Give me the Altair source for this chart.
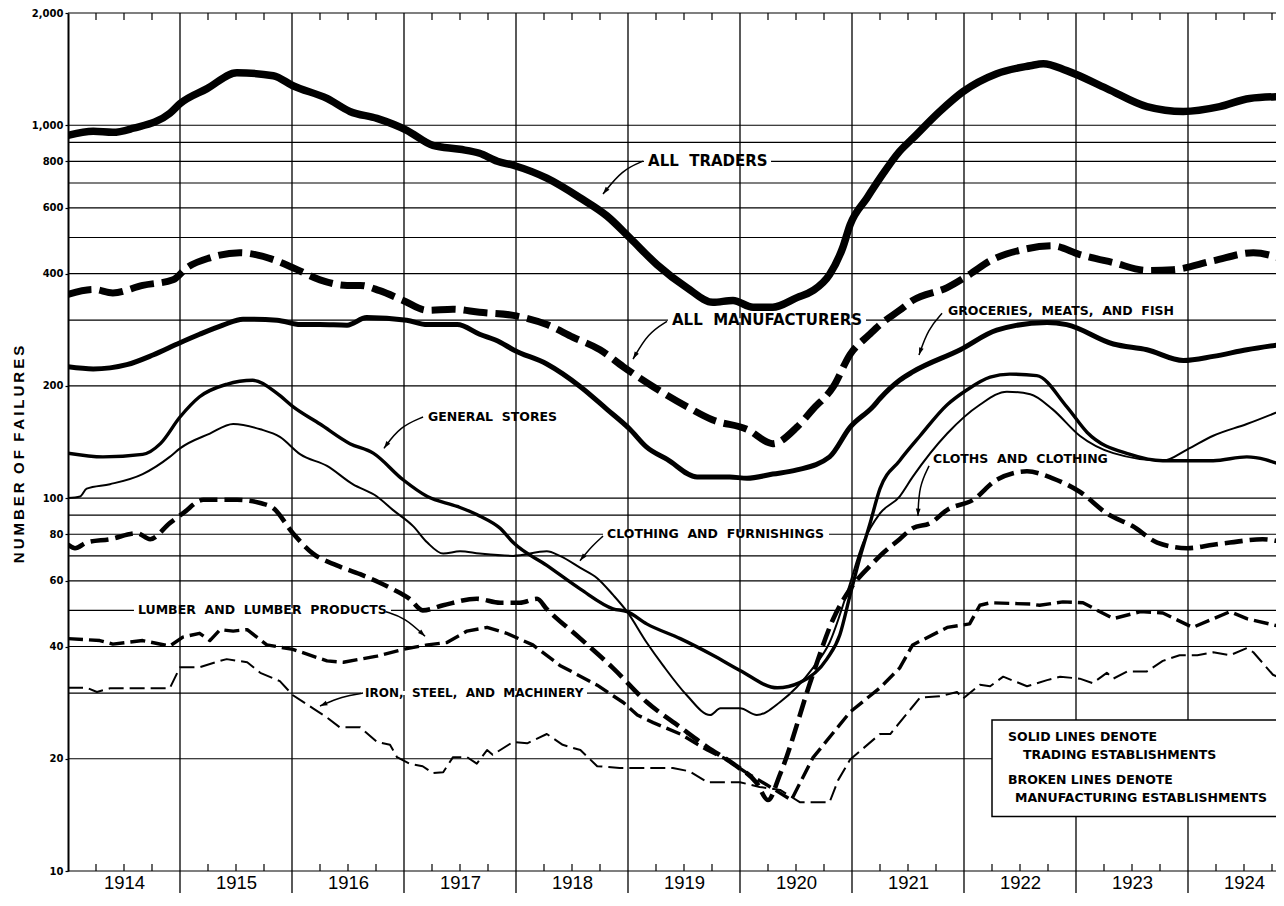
import altair as alt
import pandas as pd

# ------------------------------------------------------------------
# Data: sample points.
# *_M  = months elapsed since January 1914, values = number of failures
# ------------------------------------------------------------------
ALL_TRADERS_M = [0, 2.7, 4.8, 7, 10.9, 12, 14.9, 18.1, 22, 24.1, 27.75, 30.2, 33.1, 36.3, 39.1,
                 42, 44.1, 46, 47.7, 51.3, 54.9, 57.75, 60.2, 63.1, 66.3, 69.1, 71.25, 73.4, 75.5,
                 78.1, 79.8, 81.6, 83, 83.8, 85.6, 87, 89.1, 90.5, 93.4, 95.9, 99.5, 103.1, 104.5,
                 107, 111.3, 115.6, 119.5, 123.4, 126.6, 130.3]
ALL_TRADERS = [940, 963, 957, 982, 1076, 1143, 1254, 1383, 1358, 1276, 1180, 1089, 1043, 969, 883,
               862, 841, 801, 781, 721, 638, 571, 499, 423, 367, 335, 339, 325, 325,
               345, 360, 398, 469, 541, 638, 721, 851, 922, 1089, 1231, 1375, 1444, 1463,
               1401, 1254, 1122, 1089, 1122, 1180, 1195]

ALL_MFG_M = [0, 2.7, 4.8, 8, 11.25, 12.75, 15.2, 18.4, 22, 24.1, 27, 29.9, 31.3, 33.4, 35.9,
             38.5, 41.25, 44.1, 47.7, 51.3, 54.1, 57, 59.5, 62.7, 66.3, 69.1, 72.75, 75.5, 78.1,
             79.8, 82, 83.8, 85.9, 87, 89.1, 90.5, 94.2, 96.6, 98.8, 102.3, 105.5, 108.4, 112,
             115.6, 118.4, 122.7, 127, 130.3]
ALL_MFG = [352, 363, 355, 372, 385, 415, 441, 455, 436, 415, 385, 372, 372, 360, 339,
           319, 321, 315, 309, 292, 270, 250, 225, 199, 176, 162, 153, 140, 155,
           173, 199, 243, 275, 292, 319, 339, 367, 398, 433, 464, 475, 450, 428,
           408, 410, 433, 455, 436]

GROC_M = [0, 2.7, 6.3, 9.1, 11.7, 14.1, 16.6, 18.75, 22.4, 24.9, 27, 29.9, 32, 36.3, 38.5,
          41.7, 44.1, 46.3, 47.7, 51.3, 54.9, 57.75, 60.2, 62, 64.2, 67.4, 70.9, 72.75, 75.5,
          78.1, 81.6, 83.8, 86.25, 87, 89.1, 90.5, 95.6, 99.5, 104.9, 107, 112, 115.6, 119.5,
          122.7, 126.3, 130.3]
GROC = [225, 222, 228, 242, 259, 275, 291, 302, 300, 292, 292, 291, 305, 300, 292,
        292, 275, 262, 250, 229, 199, 173, 153, 137, 127, 114, 114, 113, 116,
        119, 129, 155, 176, 185, 207, 218, 250, 282, 296, 292, 259, 250, 234,
        240, 250, 259]

GEN_M = [0, 3.75, 8, 9.9, 12, 14.1, 17, 19.8, 22.4, 24.1, 27, 30.2, 32.7, 35.9, 38.5,
         41.7, 44.1, 46.3, 47.7, 51.3, 54.9, 58.4, 59.9, 62, 65.6, 69.1, 72, 76, 78.4,
         81.3, 82.7, 83.8, 84.9, 85.9, 87, 89.1, 91.3, 94.2, 96.3, 98.8, 100.9, 103.8, 107,
         109.2, 113.8, 117.3, 122.7, 126.3, 130.3]
GEN = [132, 129, 131, 140, 165, 187, 202, 207, 191, 176, 158, 140, 132, 112, 101,
       95, 89.6, 83, 76, 66, 57, 50.5, 49.6, 46, 42, 37.9, 34.5, 31, 32,
       37, 43, 55, 70, 85, 106, 126, 147, 178, 195, 211, 215, 213, 176,
       150, 131, 126, 126, 129, 122]

CF_M = [0, 1.3, 2, 4.5, 8, 10.9, 12, 15.2, 17.7, 20.6, 22.7, 24.9, 27.75, 30.5, 33.1,
        34.8, 37, 38.5, 40.2, 42, 44.1, 47.7, 51.3, 52.7, 54.9, 56.7, 58.4, 59.9, 62,
        63.75, 66.3, 68.8, 69.9, 72, 73.8, 76.3, 79.8, 81.6, 83.5, 85.2, 87, 89.1, 90.5,
        94.2, 97.7, 100.6, 103.1, 105.5, 108.4, 112, 117.3, 119.9, 122.7, 126.3, 130.3]
CF = [100, 101, 106, 109, 116, 129, 136, 149, 158, 153, 146, 131, 122, 109, 101,
      93, 84, 76, 71, 72, 71, 70, 72, 70, 65, 61, 55, 49.6, 41,
      35.6, 29.6, 26.2, 27.3, 27.3, 26.2, 28.4, 35, 41, 56, 76, 91, 101, 114,
      149, 178, 193, 190, 173, 147, 132, 126, 135, 147, 158, 173]

CC_M = [0, 0.75, 2, 4.5, 7.4, 8.8, 10.9, 12.3, 14.5, 18.1, 20.6, 22, 24.1, 26.25, 28.8,
        31.3, 33.4, 34.8, 36.6, 38, 40.2, 43.8, 46.3, 48.4, 50.25, 51.3, 54.9, 58.4, 62,
        65.6, 68.5, 71.25, 73.8, 75, 76.3, 79.8, 82, 83.8, 86.25, 87, 89.1, 90.5, 92.4,
        94.2, 97, 99.5, 102.75, 105.5, 108.4, 111.3, 114.1, 116.7, 119.9, 122.7, 124.5,
        128, 130.3]
CC = [75, 73.4, 76, 77.6, 80.5, 77.6, 85.7, 91, 99, 99, 97, 94, 80.5, 71, 66,
      62.5, 59.3, 57, 53.7, 50, 51.6, 53.7, 52.4, 52.4, 53.7, 50.4, 42, 35, 28.4,
      24.3, 21.5, 19.4, 17.2, 15.5, 18.2, 33.6, 47.5, 57, 67, 70, 77.6, 83, 85.7,
      93, 99, 112, 118, 113, 104, 91, 84, 76, 73.4, 75, 76,
      77.6, 76]

LUMBER_M = [0, 3.4, 4.8, 8, 10.9, 12.3, 14.1, 15.2, 16.3, 17.7, 19.2, 21.3, 24.1, 27.75, 29.5,
            33.1, 35.9, 38.5, 40.6, 42.75, 44.9, 47, 49.8, 52.7, 56.7, 59.5, 61, 62.7, 65.6,
            68.5, 70.6, 72.75, 74.9, 77.5, 79.8, 83.8, 87, 89.1, 90.5, 94.2, 96.6, 97.7, 98.8,
            103.1, 104.1, 106.6, 108.75, 112, 114.9, 117.3, 120.5, 124.5, 126.3, 130.3]
LUMBER = [42, 41.5, 40.6, 41.5, 40.1, 42.4, 43.4, 41.5, 44.4, 44, 44.4, 40.4, 39.3, 36.6, 36.3,
          37.7, 39.3, 40.4, 41, 44, 45, 43.4, 40.4, 35.6, 31.5, 28.3, 26.2, 25, 23.3,
          21.1, 19.9, 18.3, 17, 15.5, 20.1, 26.7, 31, 35, 40.4, 45, 46, 51.6, 52.4,
          52, 51.6, 52.7, 52.4, 47.5, 49.6, 49.2, 45, 49.6, 47.5, 45]

IRON_M = [0, 2, 3.1, 4.5, 10.9, 12, 14.1, 16.3, 17, 19.2, 20.6, 22.7, 24.1, 26.25, 27.75,
          29.1, 31.3, 33.1, 34.5, 35.25, 36.6, 38, 39.1, 40.2, 41.25, 42.75, 43.8, 44.9, 45.5,
          47.7, 49.2, 51.3, 53, 54.9, 56.7, 59.1, 62.7, 64.8, 66.6, 68.5, 72, 74.1, 76.3,
          78.4, 81.6, 82.5, 83.8, 87, 88.1, 91.3, 93.4, 95.25, 95.9, 97.7, 98.8, 100.2,
          102.75, 104.9, 106.3, 108.4, 109.8, 111.3, 112, 113.5, 115.6, 117.3, 119.1, 121,
          122.7, 124.5, 126.3, 127, 129.1, 130.3]
IRON = [31, 31, 30.2, 30.9, 30.9, 35.2, 35.2, 36.6, 37, 36.3, 34, 32.3, 29.6, 27.3, 25.8,
        24.3, 24.3, 22.2, 21.8, 20.2, 19.4, 19.1, 18.3, 18.4, 20.2, 20.2, 19.4, 21.1, 20.5,
        22.2, 22, 23.3, 21.8, 21.1, 19.1, 18.9, 18.9, 18.9, 18.5, 17.3, 17.3, 16.8, 16.5,
        15.3, 15.3, 17.5, 19.9, 23.3, 23.3, 29.2, 29.4, 30.2, 29, 31.6, 31.3, 33.2,
        31.3, 32.5, 33.2, 32.8, 31.9, 34, 32.8, 34.3, 34.3, 36.6, 37.9, 37.9,
        38.6, 37.9, 39.6, 38.6, 33.6, 32.5]

Y_LABELS = [10, 20, 40, 60, 80, 100, 200, 400, 600, 800, 1000, 2000]
GRID_VALUES = [10, 20, 30, 40, 50, 60, 70, 80, 90, 100, 200, 300, 400, 500, 600, 700, 800, 900,
               1000, 2000]
YEARS = list(range(1914, 1925))

# annotation labels: text, year position (left edge), value (centre line), font size
LABELS = [
    ("ALL TRADERS", 1919.179, 800, 15),
    ("ALL MANUFACTURERS", 1919.393, 300, 15),
    ("GROCERIES, MEATS, AND FISH", 1921.857, 317, 12.5),
    ("GENERAL STORES", 1917.214, 165, 12.5),
    ("CLOTHING AND FURNISHINGS", 1918.813, 80, 12.5),
    ("CLOTHS AND CLOTHING", 1921.723, 127, 12.5),
    ("LUMBER AND LUMBER PRODUCTS", 1914.625, 50, 12.5),
    ("IRON, STEEL, AND MACHINERY", 1916.652, 30, 12),
]

# gaps cut in the gridlines behind the labels that sit on them: (from, to, value)
KNOCKOUTS = [
    (1919.143, 1920.277, 800),
    (1919.357, 1921.125, 300),
    (1918.777, 1920.795, 80),
    (1914.589, 1916.884, 50),
    (1916.616, 1918.634, 30),
]

# leader arrows: points (year, value); arrowhead angle at last point
ARROWS = [
    ([(1919.134, 801), (1918.946, 758), (1918.777, 654)], 218),
    ([(1919.348, 298), (1919.179, 277), (1919.045, 236)], 210),
    ([(1921.804, 313), (1921.679, 284), (1921.598, 242)], 199),
    ([(1917.170, 165), (1916.964, 155.5), (1916.821, 136)], 216),
    ([(1918.777, 79.1), (1918.679, 74.4), (1918.571, 67.9)], 219),
    ([(1921.688, 122), (1921.598, 107.6), (1921.589, 89.5)], 182),
    ([(1916.839, 49.6), (1917.009, 47.8), (1917.188, 42.6)], 133),
    ([(1916.634, 30), (1916.446, 29.4), (1916.250, 27.7)], 246),
]

LEGEND_LINES = [
    ("SOLID LINES DENOTE", 1922.393, 22.9),
    ("TRADING ESTABLISHMENTS", 1922.527, 20.5),
    ("BROKEN LINES DENOTE", 1922.393, 17.5),
    ("MANUFACTURING ESTABLISHMENTS", 1922.455, 15.7),
]
LEGEND_BOX = (1922.25, 1926.0, 25.4, 14.0)

# ------------------------------------------------------------------
W, H = 1208, 858
START = 1914.0
END = START + W / 112.0
FONT = "DejaVu Sans"
NBSP = "\u00a0"

xs = alt.Scale(domain=[START, END], nice=False, zero=False)
ys = alt.Scale(type="log", domain=[10, 2000], nice=False)


def series_df(months, values):
    return pd.DataFrame({"t": [START + m / 12.0 for m in months], "v": values})


def wide(text):
    return (NBSP + " ").join(text.split(" "))


title_text = (NBSP * 2).join("\u2009".join(w) for w in ["NUMBER", "OF", "FAILURES"])

Y_AXIS = alt.Axis(values=Y_LABELS, format=",", labelFont=FONT, labelFontWeight="bold",
                  labelFontSize=10, labelColor="black", labelPadding=2, tickSize=3,
                  tickColor="black", tickWidth=1.2, domainColor="black", domainWidth=2,
                  grid=False, labelOverlap=False, title=title_text,
                  titleFont="Liberation Sans", titleFontSize=15, titleFontWeight="bold",
                  titleColor="black", titleAngle=270, titleX=-50, titleY=441,
                  titleAlign="center", titleBaseline="middle")

X_AXIS = alt.Axis(values=[y + 0.5 for y in YEARS], labelExpr="floor(datum.value)",
                  ticks=False, tickSize=0, domain=False, grid=False,
                  labelFont="Liberation Sans", labelFontSize=18.5, labelColor="black",
                  labelPadding=17, labelBaseline="alphabetic", labelFlush=False,
                  labelOverlap=False, title=None)


def X(field="t:Q"):
    return alt.X(field, scale=xs, axis=X_AXIS)


def Y(field="v:Q"):
    return alt.Y(field, scale=ys, axis=Y_AXIS)


layers = []

# horizontal grid
layers.append(
    alt.Chart(pd.DataFrame({"v": GRID_VALUES}))
    .mark_rule(color="black", strokeWidth=1.2)
    .encode(y=Y())
)

# year dividers
layers.append(
    alt.Chart(pd.DataFrame({"t": [float(y) for y in YEARS[1:]]}))
    .mark_rule(color="black", strokeWidth=1.3)
    .encode(x=X(), y=alt.value(0), y2=alt.value(H + 22))
)

# quarterly ticks at bottom and top
quarters = [y + q / 4 for y in YEARS for q in (1, 2, 3) if y + q / 4 < END]
qdf = pd.DataFrame({"t": quarters})
layers.append(
    alt.Chart(qdf).mark_rule(color="black", strokeWidth=1.2)
    .encode(x=X(), y=alt.value(H - 7), y2=alt.value(H))
)
layers.append(
    alt.Chart(qdf).mark_rule(color="black", strokeWidth=1.2)
    .encode(x=X(), y=alt.value(0), y2=alt.value(7))
)

# gridline knock-outs behind labels
layers.append(
    alt.Chart(pd.DataFrame({"t": [k[0] for k in KNOCKOUTS], "t2": [k[1] for k in KNOCKOUTS],
                            "v": [k[2] for k in KNOCKOUTS]}))
    .mark_rule(color="white", strokeWidth=4)
    .encode(x=X(), x2="t2:Q", y=Y())
)

# data series
SERIES = [
    (ALL_TRADERS_M, ALL_TRADERS, 7.5, None, "monotone"),
    (ALL_MFG_M, ALL_MFG, 7, [24, 8], "monotone"),
    (GROC_M, GROC, 5, None, "monotone"),
    (GEN_M, GEN, 3.4, None, "monotone"),
    (CF_M, CF, 2, None, "monotone"),
    (CC_M, CC, 4.6, [18, 7], "monotone"),
    (LUMBER_M, LUMBER, 3.4, [15, 6], "linear"),
    (IRON_M, IRON, 2, [15, 6], "linear"),
]
for months, vals, width, dash, interp in SERIES:
    kw = dict(color="black", strokeWidth=width, interpolate=interp, clip=True,
              strokeJoin="round")
    if dash:
        kw["strokeDash"] = dash
        kw["strokeCap"] = "butt"
    else:
        kw["strokeCap"] = "round"
    layers.append(
        alt.Chart(series_df(months, vals)).mark_line(**kw).encode(x=X(), y=Y())
    )

# arrows
arrow_rows = []
head_rows = []
for k, (pts, ang) in enumerate(ARROWS):
    for i, (t, v) in enumerate(pts):
        arrow_rows.append({"id": k, "i": i, "t": t, "v": v})
    head_rows.append({"t": pts[-1][0], "v": pts[-1][1], "a": ang})
layers.append(
    alt.Chart(pd.DataFrame(arrow_rows)).mark_line(color="black", strokeWidth=1.5,
                                                 interpolate="basis")
    .encode(x=X(), y=Y(), detail="id:N", order="i:Q")
)
layers.append(
    alt.Chart(pd.DataFrame(head_rows)).mark_point(shape="M0,0L0.42,1.3L-0.42,1.3Z",
                                                 filled=True, size=130, color="black",
                                                 opacity=1)
    .encode(x=X(), y=Y(), angle=alt.Angle("a:Q", scale=None))
)

# label text
lab_df = pd.DataFrame({
    "text": [wide(l[0]) for l in LABELS],
    "t": [l[1] for l in LABELS],
    "v": [l[2] for l in LABELS],
    "fs": [l[3] for l in LABELS],
})
layers.append(
    alt.Chart(lab_df).mark_text(align="left", baseline="middle", font=FONT, fontWeight="bold",
                                color="black")
    .encode(x=X(), y=Y(), text="text:N", size=alt.Size("fs:Q", scale=None))
)

# legend box
bx = LEGEND_BOX
layers.append(
    alt.Chart(pd.DataFrame({"t": [bx[0]], "t2": [bx[1]], "v": [bx[2]], "v2": [bx[3]]}))
    .mark_rect(fill="white", stroke="black", strokeWidth=1.5, clip=True)
    .encode(x=X(), x2="t2:Q", y=Y(), y2="v2:Q")
)
layers.append(
    alt.Chart(pd.DataFrame({"text": [l[0] for l in LEGEND_LINES],
                            "t": [l[1] for l in LEGEND_LINES],
                            "v": [l[2] for l in LEGEND_LINES]}))
    .mark_text(align="left", baseline="middle", font=FONT, fontWeight="bold", fontSize=12.5,
               color="black")
    .encode(x=X(), y=Y(), text="text:N")
)

chart = (
    alt.layer(*layers)
    .properties(width=W, height=H, padding={"left": 60, "top": 5, "right": 0, "bottom": 22},
                autosize=alt.AutoSizeParams(type="none"), background="white")
    .configure_view(stroke=None)
)

chart.save("out.html", embed_options={"renderer": "svg", "actions": False})
